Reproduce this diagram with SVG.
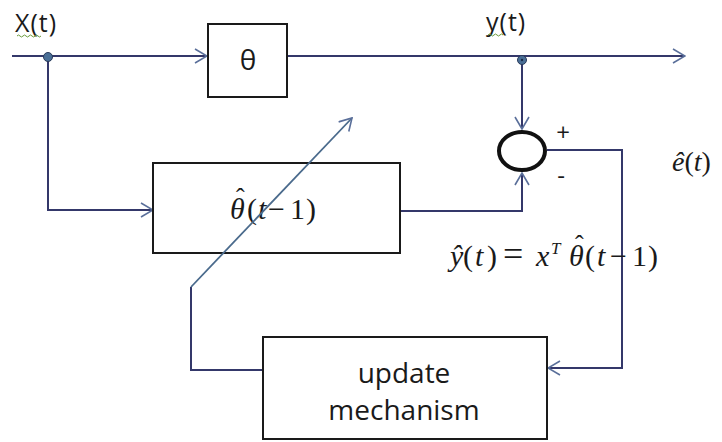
<svg xmlns="http://www.w3.org/2000/svg" width="722" height="442" viewBox="0 0 722 442">
<defs>
<style>
.ln{fill:none;stroke:#34386a;stroke-width:2}
.box{fill:#fff;stroke:#1a1a1a;stroke-width:2}
.sans{font-family:"Open Sans","Liberation Sans",sans-serif;fill:#1a1a1a}
.math{font-family:"Liberation Serif","DejaVu Serif",serif;fill:#1a1a1a}
.it{font-style:italic}
.sq{fill:none;stroke:#6a9a3a;stroke-width:1}
</style>
<marker id="ah" viewBox="0 0 14 16" refX="13" refY="8" markerWidth="14" markerHeight="16" markerUnits="userSpaceOnUse" orient="auto">
<path d="M1,1 L13,8 L1,15" fill="none" stroke="#5a6f9a" stroke-width="1.6"/>
</marker>
</defs>
<rect width="722" height="442" fill="#fff"/>
<g id="connectors">
<path class="ln" d="M12,56 H207" marker-end="url(#ah)"/>
<path class="ln" d="M287,56 H685" marker-end="url(#ah)"/>
<path class="ln" d="M48,56 V210 H153" marker-end="url(#ah)"/>
<path class="ln" d="M400,211 H522 V173" marker-end="url(#ah)"/>
<path class="ln" d="M522,58 V129" marker-end="url(#ah)"/>
<path class="ln" d="M547,150 H622 V368 H548" marker-end="url(#ah)"/>
<path class="ln" d="M263,370 H191 V287"/>
</g>
<g id="x-node">
<circle cx="48" cy="57" r="4.5" fill="#4a6f96" stroke="#2a3a5a" stroke-width="1"/>
<text class="sans" x="15" y="32" font-size="25" letter-spacing="1">X(t)</text>
<path class="sq" d="M17,36 q1.5,-2 3,0 t3,0 t3,0 t3,0 t3,0 t3,0 t3,0 t3,0"/>
</g>
<g id="y-node">
<circle cx="522" cy="60" r="4.5" fill="#4a6f96" stroke="#2a3a5a" stroke-width="1"/>
<circle cx="522" cy="60" r="1.2" fill="#1a2a4a"/>
<text class="sans" x="486" y="31" font-size="25" letter-spacing="1">y(t)</text>
<path class="sq" d="M488,35 q1.5,-2 3,0 t3,0 t3,0 t3,0 t3,0"/>
</g>
<g id="theta">
<rect class="box" x="208" y="24" width="79" height="73"/>
<text class="sans" x="248" y="70" font-size="28" text-anchor="middle">θ</text>
</g>
<g id="theta-hat">
<rect class="box" x="153" y="163" width="247" height="90"/>
<text class="math" y="219" font-size="30"><tspan class="it" x="230">θ</tspan><tspan x="247">(</tspan><tspan class="it" x="258">t</tspan><tspan x="268">−</tspan><tspan x="290">1</tspan><tspan x="306">)</tspan><tspan x="236" y="206" font-size="26">ˆ</tspan></text>
</g>
<g id="sum">
<ellipse cx="522" cy="151" rx="23" ry="19" fill="#fff" stroke="#111" stroke-width="4"/>
<text class="sans" x="563" y="141" font-size="24" text-anchor="middle">+</text>
<text class="sans" x="561" y="184" font-size="24" text-anchor="middle">-</text>
</g>
<g id="e-label">
<text class="math" x="672" y="171" font-size="28"><tspan class="it">ê</tspan>(<tspan class="it">t</tspan>)</text>
</g>
<g id="yhat-label">
<text class="math" y="266" font-size="30"><tspan class="it" x="450">ŷ</tspan><tspan x="463">(</tspan><tspan class="it" x="475">t</tspan><tspan x="487">)</tspan><tspan x="503" font-size="36">=</tspan><tspan class="it" x="536">x</tspan><tspan class="it" x="551" y="254" font-size="17">T</tspan><tspan class="it" x="569" y="266">θ</tspan><tspan x="585">(</tspan><tspan class="it" x="597">t</tspan><tspan x="610">−</tspan><tspan x="632">1</tspan><tspan x="648">)</tspan><tspan x="575" y="253" font-size="26">ˆ</tspan></text>
</g>
<g id="update">
<rect class="box" x="263" y="337" width="284" height="102"/>
<text class="sans" x="404" y="383" font-size="28" text-anchor="middle">update</text>
<text class="sans" x="404" y="420" font-size="28" text-anchor="middle">mechanism</text>
</g>
<g id="adapt-arrow">
<path d="M191,287 L352,118" fill="none" stroke="#4a6a8c" stroke-width="1.8" marker-end="url(#ah)"/>
</g>
</svg>
